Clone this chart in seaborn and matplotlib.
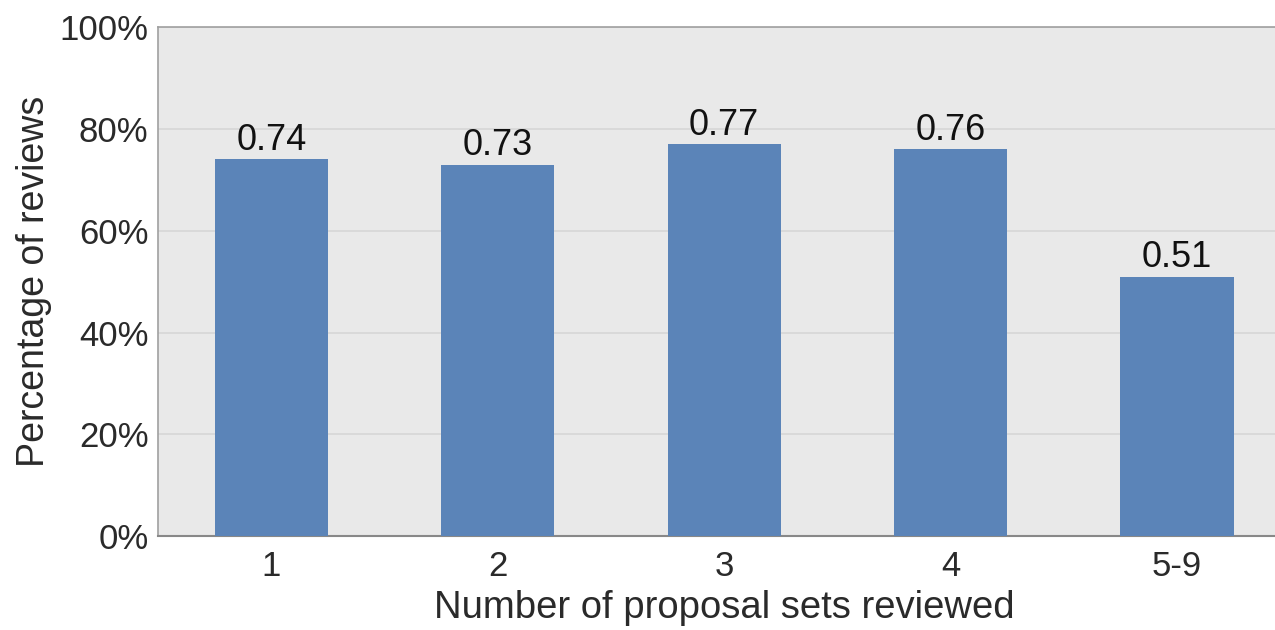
import matplotlib
matplotlib.use("Agg")
import matplotlib.pyplot as plt
import seaborn as sns
import pandas as pd

# Share of reviews by number of proposal sets reviewed
categories = ["1", "2", "3", "4", "5-9"]
shares = [0.74, 0.73, 0.77, 0.76, 0.51]
y_ticks = [0.0, 0.2, 0.4, 0.6, 0.8, 1.0]
y_tick_labels = ["0%", "20%", "40%", "60%", "80%", "100%"]

df = pd.DataFrame({"sets": categories, "share": shares})

sns.set_theme(style="white")
plt.rcParams["font.family"] = ["Liberation Sans", "DejaVu Sans"]

fig = plt.figure(figsize=(12.75, 6.3), dpi=100)
ax = fig.add_axes([0.124, 0.149, 0.888, 0.808])
ax.set_facecolor("#e9e9e9")

sns.barplot(data=df, x="sets", y="share", color="#5b84b8", saturation=1,
            width=0.5, linewidth=0, ax=ax, zorder=3)

ax.set_ylim(0, 1.0)
ax.set_xlim(-0.5, 4.5)
ax.set_yticks(y_ticks)
ax.set_yticklabels(y_tick_labels)
ax.yaxis.grid(True, color="#d6d6d6", linewidth=1.2, zorder=0)
ax.set_axisbelow(True)

for cont in ax.containers:
    ax.bar_label(cont, labels=[f"{v:.2f}" for v in shares], padding=1,
                 fontsize=26, color="#111111")

ax.tick_params(axis="x", length=0, labelsize=25, colors="#2a2a2a", pad=10)
ax.tick_params(axis="y", length=0, labelsize=25, colors="#2a2a2a", pad=7)
ax.set_xlabel("Number of proposal sets reviewed", fontsize=27.5, color="#2a2a2a", labelpad=5)
ax.set_ylabel("Percentage of reviews", fontsize=27, color="#2a2a2a", labelpad=5)

for side in ["left", "top"]:
    ax.spines[side].set_color("#a0a0a0")
    ax.spines[side].set_linewidth(1.2)
ax.spines["bottom"].set_color("#888888")
ax.spines["bottom"].set_linewidth(1.5)
ax.spines["right"].set_visible(False)

fig.savefig("out.png", dpi=100, facecolor="white")
